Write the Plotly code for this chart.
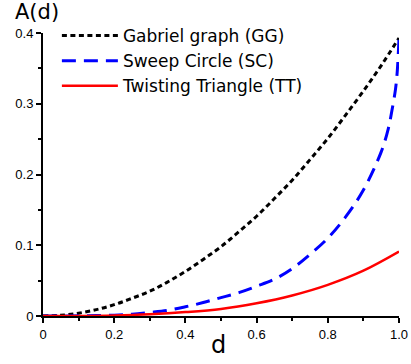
import plotly.graph_objects as go

d_gg = [0, 0.05, 0.1, 0.15, 0.2, 0.25, 0.3, 0.35, 0.4, 0.45, 0.5, 0.55, 0.6, 0.65, 0.7, 0.75, 0.8, 0.85, 0.9, 0.95, 1.0]
a_gg = [0, 0.001, 0.004, 0.009, 0.016, 0.025, 0.035, 0.048, 0.063, 0.080, 0.098, 0.119, 0.141, 0.166, 0.192, 0.221, 0.251, 0.284, 0.318, 0.354, 0.393]

d_sc = [0, 0.05, 0.1, 0.15, 0.2, 0.25, 0.3, 0.35, 0.4, 0.45, 0.5, 0.55, 0.6, 0.65, 0.7, 0.75, 0.8, 0.85, 0.9, 0.95, 0.97, 0.98, 0.99, 0.995, 1.0]
a_sc = [0, 0, 0.0002, 0.0006, 0.0012, 0.0025, 0.005, 0.008, 0.013, 0.019, 0.026, 0.033, 0.042, 0.052, 0.067, 0.087, 0.110, 0.140, 0.178, 0.232, 0.265, 0.29, 0.32, 0.345, 0.392]

d_tt = [0, 0.1, 0.2, 0.3, 0.4, 0.5, 0.6, 0.7, 0.8, 0.9, 1.0]
a_tt = [0, 0.0001, 0.0008, 0.0025, 0.0055, 0.010, 0.018, 0.029, 0.044, 0.064, 0.091]

x_ticks = [0, 0.2, 0.4, 0.6, 0.8, 1.0]
x_labels = ["0", "0.2", "0.4", "0.6", "0.8", "1.0"]
y_ticks = [0, 0.1, 0.2, 0.3, 0.4]
y_labels = ["0", "0.1", "0.2", "0.3", "0.4"]

fig = go.Figure()
fig.add_trace(go.Scatter(x=d_gg, y=a_gg, mode="lines", name="Gabriel graph (GG)",
                         line=dict(color="black", width=3, dash="5px,3.5px"), line_shape="spline"))
fig.add_trace(go.Scatter(x=d_sc, y=a_sc, mode="lines", name="Sweep Circle (SC)",
                         line=dict(color="#0000ff", width=3, dash="14px,8px"), line_shape="spline"))
fig.add_trace(go.Scatter(x=d_tt, y=a_tt, mode="lines", name="Twisting Triangle (TT)",
                         line=dict(color="#ff0000", width=2.5), line_shape="spline"))

fig.update_layout(
    width=411, height=364,
    margin=dict(l=43, r=12, t=33, b=48, autoexpand=False),
    plot_bgcolor="white", paper_bgcolor="white",
    showlegend=True,
    legend=dict(x=0.039, y=1.053, xanchor="left", yanchor="top",
                font=dict(family="DejaVu Sans", size=17, color="black"),
                bgcolor="rgba(0,0,0,0)", itemwidth=56, tracegroupgap=0),
    xaxis=dict(range=[0, 1.0], tickvals=x_ticks, ticktext=x_labels, automargin=False,
               showgrid=False, zeroline=False, showline=True, linecolor="black", linewidth=2,
               ticks="outside", ticklen=5, tickwidth=2, tickcolor="black",
               tickfont=dict(family="Liberation Sans", size=13, color="black"),
               minor=dict(tickvals=[0.1, 0.3, 0.5, 0.7, 0.9], ticks="outside", ticklen=3, tickwidth=2, tickcolor="black"),
               fixedrange=True),
    yaxis=dict(range=[0, 0.4], tickvals=y_ticks, ticktext=y_labels, automargin=False,
               showgrid=False, zeroline=False, showline=True, linecolor="black", linewidth=2,
               ticks="outside", ticklen=5, tickwidth=2, tickcolor="black",
               tickfont=dict(family="Liberation Sans", size=13, color="black"),
               minor=dict(tickvals=[0.05, 0.15, 0.25, 0.35], ticks="outside", ticklen=3, tickwidth=2, tickcolor="black"),
               fixedrange=True),
    annotations=[
        dict(text="A(d)", xref="paper", yref="paper", x=-0.084, y=1.0, yshift=21,
             xanchor="left", yanchor="middle", showarrow=False,
             font=dict(family="DejaVu Sans", size=21, color="black")),
        dict(text="d", xref="paper", yref="paper", x=0.494, y=0, yshift=-29,
             xanchor="center", yanchor="middle", showarrow=False,
             font=dict(family="DejaVu Sans", size=24, color="black")),
    ],
)

fig.write_html("out.html", config={"displayModeBar": False},
               post_script="document.body.style.margin='0';document.body.style.overflow='hidden';")
